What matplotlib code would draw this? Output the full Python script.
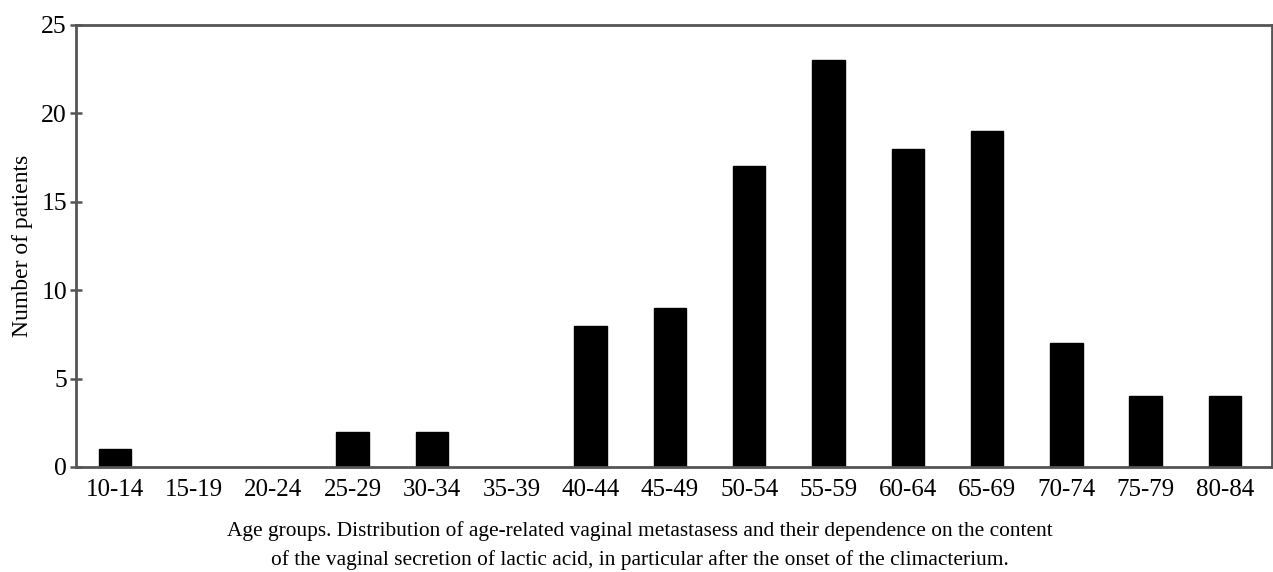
import matplotlib
matplotlib.use("Agg")
import matplotlib.pyplot as plt
import numpy as np

age_groups = ["10-14", "15-19", "20-24", "25-29", "30-34", "35-39", "40-44",
              "45-49", "50-54", "55-59", "60-64", "65-69", "70-74", "75-79", "80-84"]
patients = [1, 0, 0, 2, 2, 0, 8, 9, 17, 23, 18, 19, 7, 4, 4]
y_ticks = [0, 5, 10, 15, 20, 25]

caption = ("Age groups. Distribution of age-related vaginal metastasess and their dependence on the content\n"
           "of the vaginal secretion of lactic acid, in particular after the onset of the climacterium.")

plt.rcParams["font.family"] = ["Liberation Serif", "DejaVu Serif"]

fig = plt.figure(figsize=(12.73, 5.72), dpi=100)
ax = fig.add_axes([0.0597, 0.1836, 0.9393, 0.7727])

x = np.arange(len(age_groups))
ax.bar(x, patients, width=0.41, color="black", edgecolor="black")

ax.set_xlim(-0.49, 14.59)
ax.set_ylim(0, 25)
ax.set_yticks(y_ticks)
ax.set_xticks(x)
ax.set_xticklabels(age_groups, fontsize=18)
ax.tick_params(axis="x", length=0, pad=9)
ax.tick_params(axis="y", labelsize=18.5, direction="inout", length=9, width=1.8,
               color="#555555", pad=2)
for s in ax.spines.values():
    s.set_color("#555555")
    s.set_linewidth(2)

ax.set_ylabel("Number of patients", fontsize=17, labelpad=6)
fig.text(0.503, 0.003, caption, ha="center", va="bottom", fontsize=15.4, linespacing=1.6)

fig.savefig("out.png", dpi=100)
